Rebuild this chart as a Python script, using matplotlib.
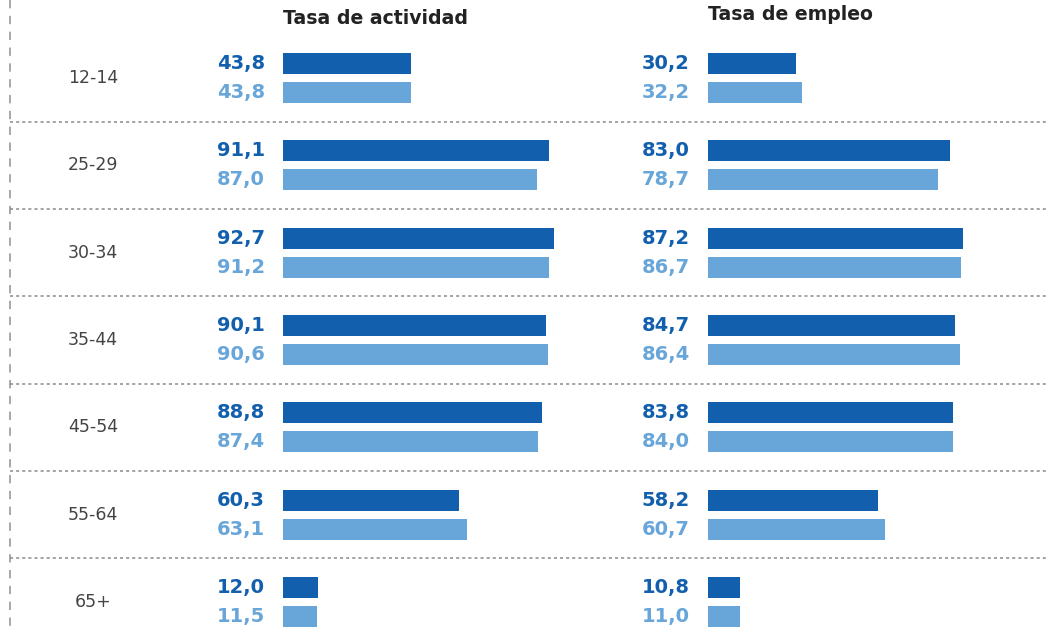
import matplotlib
matplotlib.use("Agg")
import matplotlib.pyplot as plt

categories = ["12-14", "25-29", "30-34", "35-44", "45-54", "55-64", "65+"]
actividad_a = [43.8, 91.1, 92.7, 90.1, 88.8, 60.3, 12.0]
actividad_b = [43.8, 87.0, 91.2, 90.6, 87.4, 63.1, 11.5]
empleo_a = [30.2, 83.0, 87.2, 84.7, 83.8, 58.2, 10.8]
empleo_b = [32.2, 78.7, 86.7, 86.4, 84.0, 60.7, 11.0]
titles = ["Tasa de actividad", "Tasa de empleo"]

DARK = "#1260ad"
LIGHT = "#68a6d9"
W, H = 1048, 633
fig = plt.figure(figsize=(W / 100, H / 100), dpi=100)

pitch = 87.33
c0 = 78.0
ylim = ((H - c0) / pitch, -c0 / pitch)
off = 14.5 / pitch
bh = 21 / pitch
n = len(categories)

# background axes (pixel x, row y)
bg = fig.add_axes([0, 0, 1, 1])
bg.set_xlim(0, W)
bg.set_ylim(*ylim)
bg.axis("off")
bg.plot([10, 10], [ylim[1], ylim[0]], color="#9a9a9a", lw=1.2,
        linestyle=(0, (5, 4.5)))
for i in range(n - 1):
    bg.plot([10, W], [i + 0.5, i + 0.5], color="#8a8a8a", lw=1.1,
            linestyle=(0, (2, 2)))
for i, c in enumerate(categories):
    bg.text(93, i, c, ha="center", va="center", fontsize=12.5,
            color="#444444", family="DejaVu Sans")

scale = 2.92  # px per unit
panels = [(283, actividad_a, actividad_b, titles[0], 19),
          (708, empleo_a, empleo_b, titles[1], 15)]
for x0, a, b, title, ty in panels:
    width_px = 330
    ax = fig.add_axes([x0 / W, 0, width_px / W, 1])
    ax.set_xlim(0, width_px / scale)
    ax.set_ylim(*ylim)
    ax.axis("off")
    ys = list(range(n))
    ax.barh([y - off for y in ys], a, height=bh, color=DARK)
    ax.barh([y + off for y in ys], b, height=bh, color=LIGHT)
    gap = 18 / scale
    for y, va, vb in zip(ys, a, b):
        ax.text(-gap, y - off, f"{va:.1f}".replace(".", ","), ha="right",
                va="center", fontsize=14, fontweight="bold", color=DARK,
                family="DejaVu Sans", clip_on=False)
        ax.text(-gap, y + off, f"{vb:.1f}".replace(".", ","), ha="right",
                va="center", fontsize=14, fontweight="bold", color=LIGHT,
                family="DejaVu Sans", clip_on=False)
    fig.text(x0 / W, 1 - ty / H, title, ha="left", va="center",
             fontsize=13.6, fontweight="bold", color="#222222",
             family="DejaVu Sans")

fig.savefig("out.png", dpi=100)
